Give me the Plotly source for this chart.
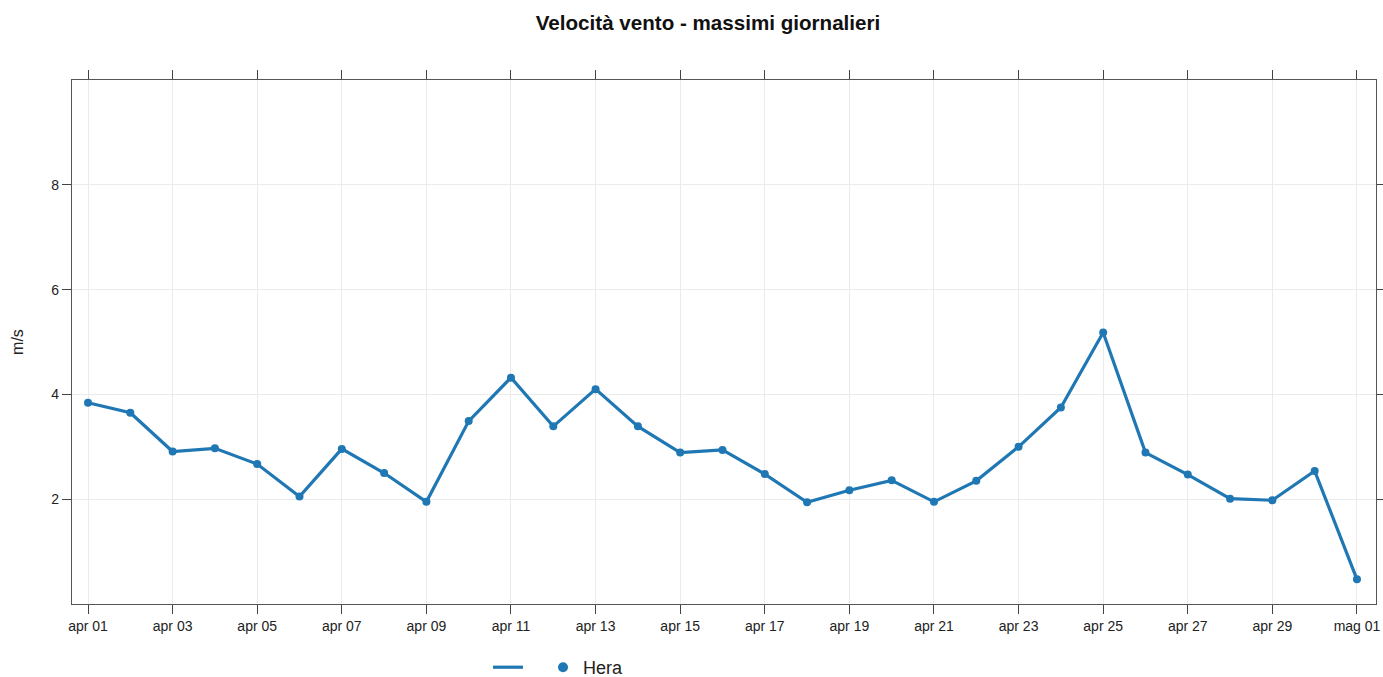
import plotly.graph_objects as go

dates = ["2024-04-%02d" % d for d in range(1, 31)] + ["2024-05-01"]
values = [3.84, 3.65, 2.91, 2.97, 2.67, 2.05, 2.96, 2.50, 1.95, 3.49, 4.32, 3.39,
          4.10, 3.39, 2.89, 2.94, 2.48, 1.94, 2.17, 2.36, 1.95, 2.35, 3.00,
          3.75, 5.18, 2.89, 2.47, 2.01, 1.98, 2.54, 0.47]
tick_dates = dates[::2]
tick_labels = ["apr 01", "apr 03", "apr 05", "apr 07", "apr 09", "apr 11", "apr 13",
               "apr 15", "apr 17", "apr 19", "apr 21", "apr 23", "apr 25", "apr 27",
               "apr 29", "mag 01"]
y_ticks = [2, 4, 6, 8]
series_name = "Hera"

color = "#1f77b4"
narrow = "Liberation Sans Narrow, Arial Narrow, Liberation Sans, Arial"

fig = go.Figure()
fig.add_trace(go.Scatter(x=dates, y=values, mode="lines+markers",
                         line=dict(color=color, width=3.2),
                         marker=dict(color=color, size=8),
                         showlegend=False))
# legend entries (line symbol, then point symbol with name)
fig.add_trace(go.Scatter(x=[None], y=[None], mode="lines",
                         line=dict(color=color, width=3.2), name="\u00a0\u00a0", showlegend=True))
fig.add_trace(go.Scatter(x=[None], y=[None], mode="markers",
                         marker=dict(color=color, size=10), name=series_name, showlegend=True))

axis_common = dict(showline=True, linecolor="#555555", linewidth=1.2, mirror="ticks",
                   ticks="outside", ticklen=9, tickwidth=1.2, tickcolor="#444444",
                   showgrid=True, gridcolor="#ebebeb", gridwidth=1, zeroline=False,
                   automargin=False,
                   tickfont=dict(family=narrow, size=14, color="#222222"))

fig.update_layout(
    width=1383, height=677,
    margin=dict(l=72, r=7, t=80, b=73, autoexpand=False),
    paper_bgcolor="white", plot_bgcolor="white",
    title=dict(text="<b>Velocità vento - massimi giornalieri</b>", x=708/1383, xanchor="center",
               y=1 - 23/677, yanchor="middle",
               font=dict(family=narrow, size=20.6, color="#111111")),
    xaxis=dict(type="date", range=["2024-03-31 14:55", "2024-05-01 10:48"],
               tickvals=tick_dates, ticktext=tick_labels, **axis_common),
    yaxis=dict(range=[0, 10], tickvals=y_ticks, ticktext=[str(v) for v in y_ticks],
               title=dict(text="m/s", standoff=23,
                          font=dict(family="Liberation Sans, Arial", size=16, color="#222222")),
               **axis_common),
    legend=dict(orientation="h", x=(488 - 72) / 1304, xanchor="left",
                y=-(686 - 604) / 524, yanchor="bottom",
                font=dict(family=narrow, size=18, color="#222222")),
)

fig.write_html("out.html", config={"displayModeBar": False},
               post_script="document.body.style.margin='0px';")
